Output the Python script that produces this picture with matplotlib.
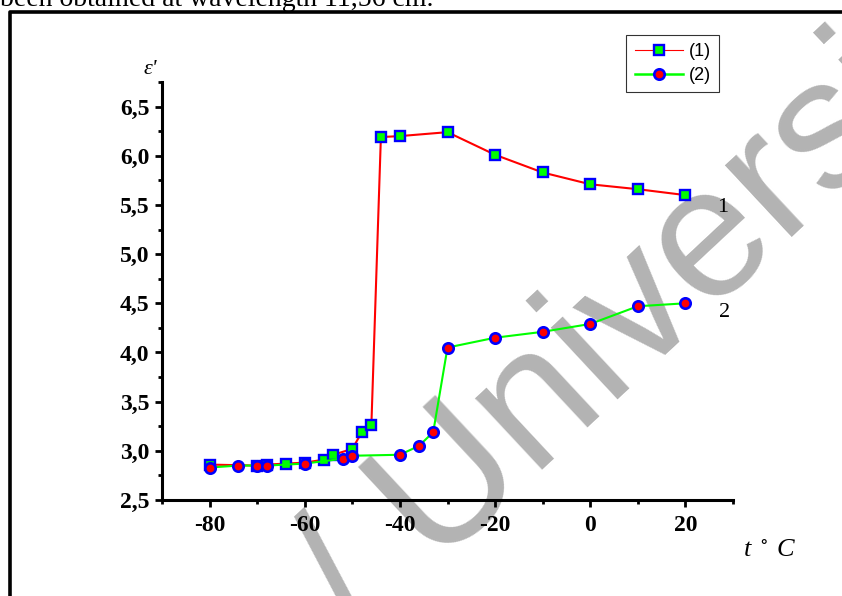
import numpy as np
import matplotlib.pyplot as plt
from matplotlib.lines import Line2D
from matplotlib.ticker import MultipleLocator, FuncFormatter

# series (1): squares, series (2): circles
t1 = [-80, -70, -68, -64, -60, -56, -54, -50, -48, -46, -44, -40, -30, -20, -10, 0, 10, 20]
e1 = [2.86, 2.85, 2.86, 2.87, 2.88, 2.91, 2.96, 3.02, 3.19, 3.26, 6.19, 6.20, 6.24, 6.01, 5.83, 5.71, 5.66, 5.60]
t2 = [-80, -74, -70, -68, -60, -52, -50, -40, -36, -33, -30, -20, -10, 0, 10, 20]
e2 = [2.83, 2.85, 2.85, 2.85, 2.87, 2.92, 2.95, 2.96, 3.05, 3.19, 4.05, 4.15, 4.21, 4.29, 4.47, 4.50]
legend_labels = ['(1)', '(2)']

serif = ['Liberation Serif', 'DejaVu Serif']
sans = ['Liberation Sans', 'DejaVu Sans']

fig = plt.figure(figsize=(8.42, 5.96), dpi=100)
ax = fig.add_axes([162/842, 1-500/596, (733-162)/842, (500-82)/596])
ax.set_facecolor('none')

ax.plot(t1, e1, color='#ff0000', lw=1.5, marker='s', ms=6.5, mfc='#00ff00',
        mec='#0000ff', mew=1.7, zorder=3)
ax.plot(t2, e2, color='#00ff00', lw=1.5, marker='o', ms=7.5, mfc='#ff0000',
        mec='#0000ff', mew=1.9, zorder=4)

ax.set_xlim(-90, 30)
ax.set_ylim(2.5, 6.75)
ax.xaxis.set_major_locator(MultipleLocator(20))
ax.xaxis.set_minor_locator(MultipleLocator(10))
ax.yaxis.set_major_locator(MultipleLocator(0.5))
ax.yaxis.set_minor_locator(MultipleLocator(0.25))
ax.yaxis.set_major_formatter(FuncFormatter(lambda v, p: f'{v:.1f}'.replace('.', ',')))
ax.xaxis.set_major_formatter(FuncFormatter(lambda v, p: f'{v:.0f}'))

for s in ['top', 'right']:
    ax.spines[s].set_visible(False)
for s in ['left', 'bottom']:
    ax.spines[s].set_linewidth(2.2)
ax.tick_params(which='major', direction='out', length=5, width=2, pad=6)
ax.tick_params(which='minor', direction='out', length=3, width=2)
ax.tick_params(axis='y', which='major', pad=4)
for lab in ax.get_xticklabels() + ax.get_yticklabels():
    lab.set_family(serif)
    lab.set_fontweight('bold')
    lab.set_fontsize(17)

# axis captions
fig.text(150/842, 1-70/596, "ε'", family=serif, style='italic', fontsize=16,
         ha='center', va='center')
fig.text(770/842, 1-550/596, 't $^\\circ$ C', family=serif, style='italic',
         fontsize=19, ha='center', va='center', math_fontfamily='stix')

# curve numbers
ax.text(27.9, 5.47, '1', family=serif, fontsize=16, ha='center', va='center')
ax.text(28.3, 4.41, '2', family=serif, fontsize=16, ha='center', va='center')

# legend with thin lines
h1 = Line2D([], [], color='#ff0000', lw=0.8, marker='s', ms=6.5, mfc='#00ff00',
            mec='#0000ff', mew=1.7)
h2 = Line2D([], [], color='#00ff00', lw=1.8, marker='o', ms=7.5, mfc='#ff0000',
            mec='#0000ff', mew=1.9)
leg = fig.legend([h1, h2], legend_labels, loc='upper right',
                 bbox_to_anchor=(719/842, 1-35/596), prop={'family': sans, 'size': 13},
                 frameon=True, fancybox=False, edgecolor='k', handlelength=2.7,
                 handletextpad=0.3, labelspacing=0.4, borderpad=0.45, borderaxespad=0)
leg.get_frame().set_linewidth(0.8)

# page frame and cut-off caption line above
fig.add_artist(Line2D([10/842, 10/842, 1.0], [0, 1-12/596, 1-12/596],
                      transform=fig.transFigure, color='k', lw=2.6))
fig.text(0.0, 1-6/596, 'been obtained at wavelength 11,56 cm.', family=serif,
         fontsize=20, ha='left', va='baseline')

# watermark
fig.text(359/842, 1-640/596, '/ University', family=sans, fontsize=134,
         color='#b3b3b3', rotation=43, rotation_mode='anchor',
         ha='left', va='baseline', zorder=-1)

fig.savefig('out.png', dpi=100)
